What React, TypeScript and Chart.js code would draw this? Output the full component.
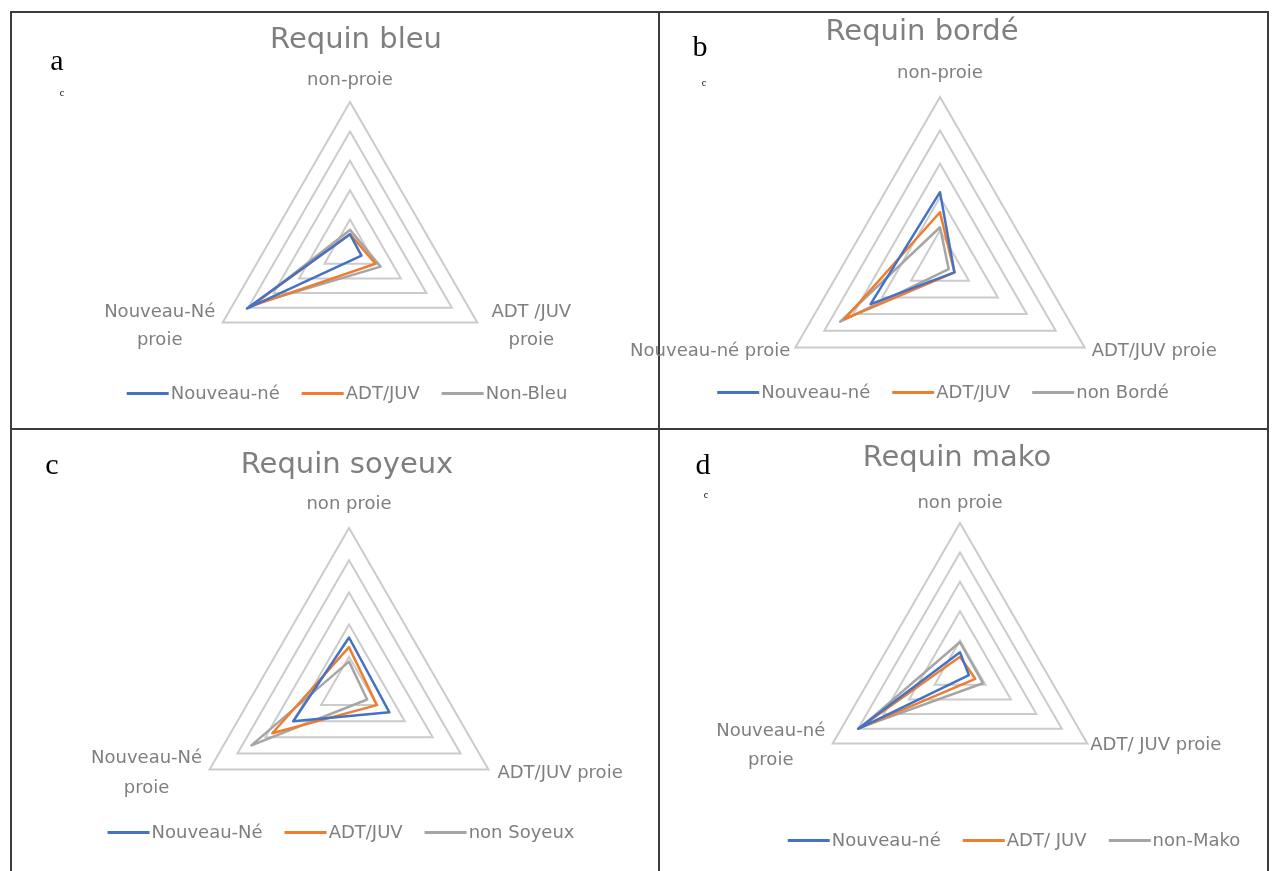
import React, { useEffect, useRef } from "react";
import { Chart, registerables } from "chart.js";

Chart.register(...registerables);

// ---------- data ----------
// axis order: [top, bottom-right, bottom-left]
const axesA = ["non-proie", ["ADT /JUV", "proie"], ["Nouveau-Né", "proie"]];
const axesB = ["non-proie", "ADT/JUV proie", "Nouveau-né proie"];
const axesC = ["non proie", "ADT/JUV proie", ["Nouveau-Né", "proie"]];
const axesD = ["non proie", "ADT/ JUV proie", ["Nouveau-né", "proie"]];

const seriesA = ["Nouveau-né", "ADT/JUV", "Non-Bleu"];
const seriesB = ["Nouveau-né", "ADT/JUV", "non Bordé"];
const seriesC = ["Nouveau-Né", "ADT/JUV", "non Soyeux"];
const seriesD = ["Nouveau-né", "ADT/ JUV", "non-Mako"];

const newbornA = [0.10, 0.09, 0.81];
const adultA = [0.10, 0.20, 0.78];
const otherA = [0.13, 0.24, 0.75];

const newbornB = [0.43, 0.10, 0.48];
const adultB = [0.31, 0.10, 0.66];
const otherB = [0.22, 0.06, 0.69];

const newbornC = [0.32, 0.29, 0.40];
const adultC = [0.26, 0.20, 0.55];
const otherC = [0.17, 0.13, 0.70];

const newbornD = [0.12, 0.07, 0.80];
const adultD = [0.09, 0.12, 0.79];
const otherD = [0.19, 0.18, 0.78];

const ringTicks = [0, 0.2, 0.4, 0.6, 0.8, 1];

// ---------- styles ----------
const COLORS = ["#4472C4", "#ED7D31", "#A5A5A5"];
const TEXT = "#7f7f7f";
const FONT = "'DejaVu Sans', sans-serif";
const LABEL_SIZE = 18;
const W = 1279;
const H = 871;

type Placement = { dx: number; dy: number; align: CanvasTextAlign; lh: number };

const pointTextPlugin = {
  id: "pointText",
  afterDraw(chart: any, _args: any, opts: any) {
    const scale = chart.scales.r;
    const ctx = chart.ctx;
    const labels = chart.data.labels as any[];
    const places: Placement[] = opts.places || [];
    ctx.save();
    ctx.fillStyle = TEXT;
    ctx.font = `${LABEL_SIZE}px ${FONT}`;
    ctx.textBaseline = "middle";
    labels.forEach((lab, i) => {
      const p = scale.getPointPosition(i, scale.drawingArea);
      const pl = places[i];
      const lines = Array.isArray(lab) ? lab : [lab];
      ctx.textAlign = pl.align;
      lines.forEach((t: string, k: number) => {
        ctx.fillText(t, p.x + pl.dx, p.y + pl.dy + k * pl.lh);
      });
    });
    ctx.restore();
  },
};

type PanelCfg = {
  axes: any[];
  names: string[];
  values: number[][];
  cx: number;
  cy: number;
  R: number;
  places: Placement[];
};

function RadarPanel({ cfg }: { cfg: PanelCfg }) {
  const ref = useRef<HTMLCanvasElement | null>(null);
  useEffect(() => {
    if (!ref.current) return;
    const { cx, cy, R } = cfg;
    const chart = new Chart(ref.current, {
      type: "radar",
      data: {
        labels: cfg.axes,
        datasets: cfg.values.map((v, i) => ({
          label: cfg.names[i],
          data: v,
          borderColor: COLORS[i],
          backgroundColor: COLORS[i],
          borderWidth: 2.5,
          borderJoinStyle: "round" as CanvasLineJoin,
          pointRadius: 0,
          pointHoverRadius: 0,
          fill: false,
          tension: 0,
          clip: false as any,
        })),
      },
      options: {
        animation: false,
        responsive: false,
        devicePixelRatio: 1,
        layout: {
          padding: { left: cx - R, top: cy - R, right: W - cx - R, bottom: H - cy - R },
        },
        plugins: {
          legend: { display: false },
          title: { display: false },
          tooltip: { enabled: false },
          pointText: { places: cfg.places },
        } as any,
        scales: {
          r: {
            min: ringTicks[0],
            max: ringTicks[ringTicks.length - 1],
            ticks: { display: false, stepSize: ringTicks[1] - ringTicks[0] },
            grid: { color: "#cbcbcb", lineWidth: 2, circular: false },
            angleLines: { display: false },
            pointLabels: { display: false },
          },
        },
      },
      plugins: [pointTextPlugin],
    });
    return () => chart.destroy();
  }, [cfg]);
  return (
    <canvas
      ref={ref}
      width={W}
      height={H}
      style={{ position: "absolute", left: 0, top: 0, width: W, height: H, pointerEvents: "none" }}
    />
  );
}

const panels: PanelCfg[] = [
  {
    axes: axesA, names: seriesA, values: [newbornA, adultA, otherA],
    cx: 350, cy: 249, R: 147,
    places: [
      { dx: 0, dy: -22, align: "center", lh: 28 },
      { dx: 54, dy: -10, align: "center", lh: 28 },
      { dx: -63, dy: -10, align: "center", lh: 28 },
    ],
  },
  {
    axes: axesB, names: seriesB, values: [newbornB, adultB, otherB],
    cx: 940, cy: 264, R: 167,
    places: [
      { dx: 0, dy: -24, align: "center", lh: 28 },
      { dx: 7, dy: 4, align: "left", lh: 28 },
      { dx: -5, dy: 4, align: "right", lh: 28 },
    ],
  },
  {
    axes: axesC, names: seriesC, values: [newbornC, adultC, otherC],
    cx: 349, cy: 689, R: 161,
    places: [
      { dx: 0, dy: -24, align: "center", lh: 30 },
      { dx: 9, dy: 4, align: "left", lh: 30 },
      { dx: -63, dy: -11, align: "center", lh: 30 },
    ],
  },
  {
    axes: axesD, names: seriesD, values: [newbornD, adultD, otherD],
    cx: 960, cy: 670, R: 147,
    places: [
      { dx: 0, dy: -20, align: "center", lh: 29 },
      { dx: 3, dy: 2, align: "left", lh: 29 },
      { dx: -62, dy: -12, align: "center", lh: 29 },
    ],
  },
];

const titles = [
  { text: "Requin bleu", x: 356, y: 38 },
  { text: "Requin bordé", x: 922, y: 30 },
  { text: "Requin soyeux", x: 347, y: 463 },
  { text: "Requin mako", x: 957, y: 456 },
];

const legendPos = [
  { x: 347, y: 393 },
  { x: 943, y: 392 },
  { x: 341, y: 832 },
  { x: 1014, y: 840 },
];

const letters = [
  { t: "a", x: 57, y: 60, small: { x: 62, y: 93 } },
  { t: "b", x: 700, y: 46, small: { x: 704, y: 83 } },
  { t: "c", x: 52, y: 464, small: null },
  { t: "d", x: 703, y: 464, small: { x: 706, y: 495 } },
];

const abs = (x: number, y: number): React.CSSProperties => ({
  position: "absolute",
  left: x,
  top: y,
  transform: "translate(-50%, -50%)",
  whiteSpace: "nowrap",
});

export default function App() {
  const border = "#3c3c3c";
  return (
    <div
      style={{
        position: "absolute",
        left: 0,
        top: 0,
        width: W,
        height: H,
        overflow: "hidden",
        background: "#ffffff",
      }}
    >
      {/* frame */}
      <div style={{ position: "absolute", left: 10, top: 11, width: 2, height: H - 11, background: border }} />
      <div style={{ position: "absolute", left: 1267, top: 11, width: 2, height: H - 11, background: border }} />
      <div style={{ position: "absolute", left: 10, top: 11, width: 1259, height: 2, background: border }} />
      <div style={{ position: "absolute", left: 658, top: 11, width: 2, height: H - 11, background: border }} />
      <div style={{ position: "absolute", left: 10, top: 428, width: 1259, height: 2, background: border }} />

      {panels.map((p, i) => (
        <RadarPanel key={i} cfg={p} />
      ))}

      {titles.map((t, i) => (
        <div key={"t" + i} style={{ ...abs(t.x, t.y), font: `29px ${FONT}`, color: TEXT, lineHeight: 1 }}>
          {t.text}
        </div>
      ))}

      {panels.map((p, i) => (
        <div
          key={"l" + i}
          style={{
            ...abs(legendPos[i].x, legendPos[i].y),
            display: "flex",
            alignItems: "center",
            gap: 22,
            font: `${LABEL_SIZE}px ${FONT}`,
            color: TEXT,
            lineHeight: 1,
          }}
        >
          {p.names.map((n, k) => (
            <div key={k} style={{ display: "flex", alignItems: "center" }}>
              <span style={{ display: "inline-block", width: 42, height: 3, background: COLORS[k], marginRight: 2 }} />
              <span>{n}</span>
            </div>
          ))}
        </div>
      ))}

      {letters.map((l, i) => (
        <React.Fragment key={"g" + i}>
          <div style={{ ...abs(l.x, l.y), font: `30px 'Liberation Serif', serif`, color: "#000", lineHeight: 1 }}>
            {l.t}
          </div>
          {l.small && (
            <div style={{ ...abs(l.small.x, l.small.y), font: `10px 'Liberation Serif', serif`, color: "#000", lineHeight: 1 }}>
              c
            </div>
          )}
        </React.Fragment>
      ))}
    </div>
  );
}
